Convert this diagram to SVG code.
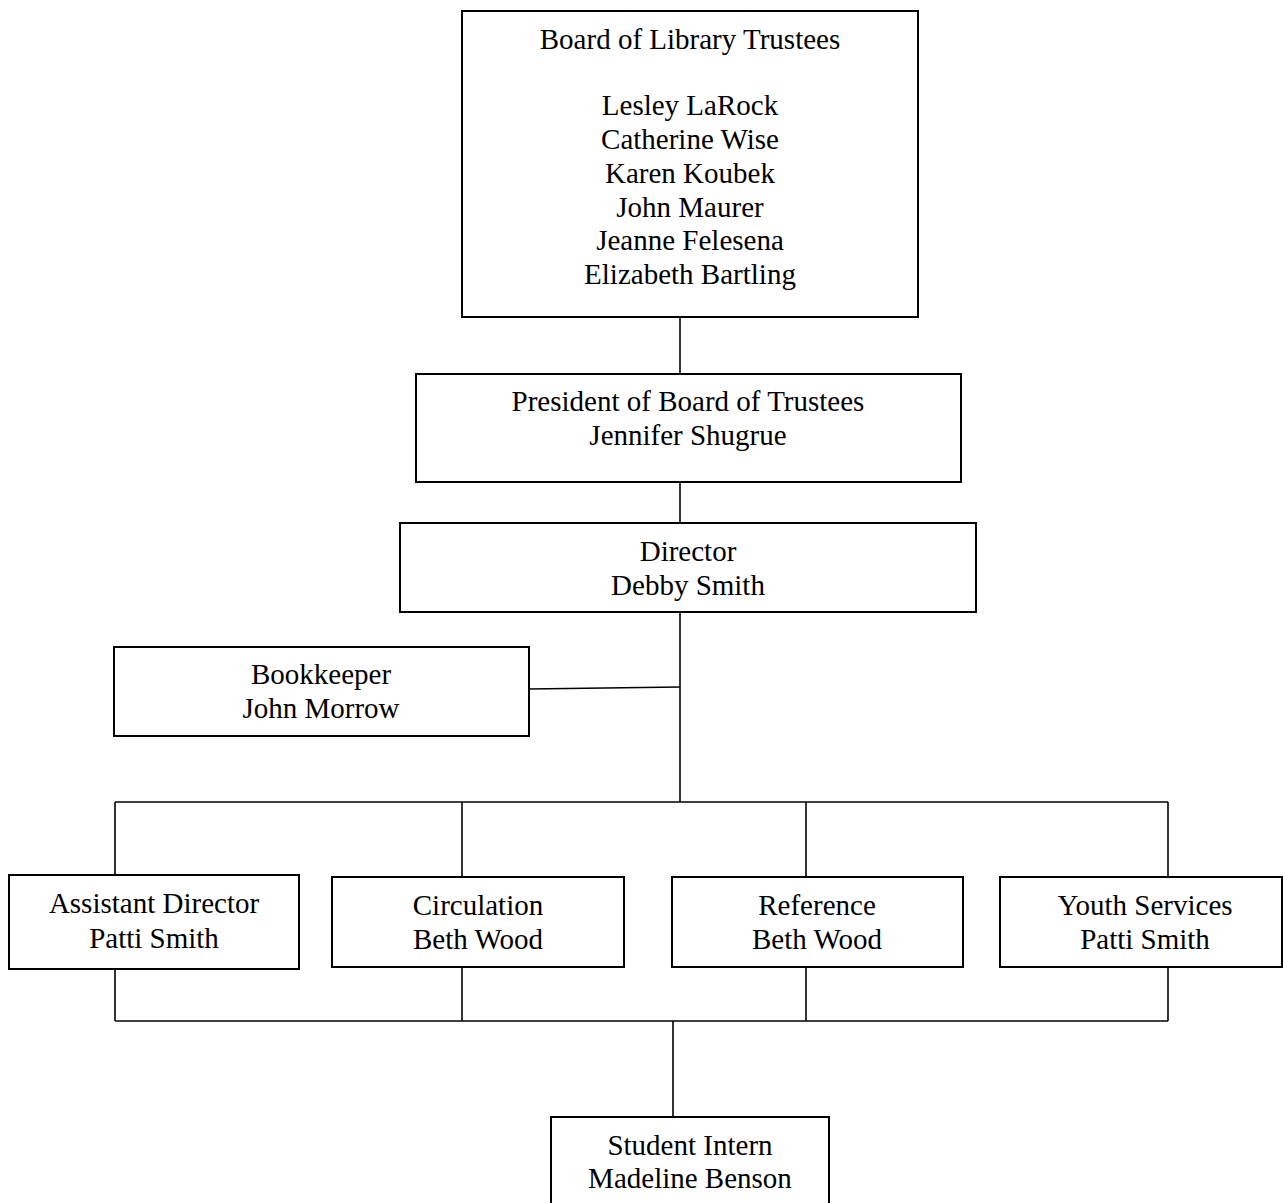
<svg xmlns="http://www.w3.org/2000/svg" width="1283" height="1203" viewBox="0 0 1283 1203">
<style>
.box{fill:#fff;stroke:#000;stroke-width:2}
.t{font-family:"Liberation Serif","Times New Roman",serif;font-size:29px;fill:#000;text-anchor:middle}
.c{stroke:#000;stroke-width:1.6;fill:none}
</style>
<rect width="1283" height="1203" fill="#fff"/>
<g id="connectors">
<line class="c" x1="680" y1="317" x2="680" y2="374"/>
<line class="c" x1="680" y1="482" x2="680" y2="523"/>
<line class="c" x1="680" y1="612" x2="680" y2="802"/>
<line class="c" x1="529" y1="689" x2="680" y2="687"/>
<line class="c" x1="115" y1="802" x2="1168" y2="802"/>
<line class="c" x1="115" y1="802" x2="115" y2="875"/>
<line class="c" x1="462" y1="802" x2="462" y2="877"/>
<line class="c" x1="806" y1="802" x2="806" y2="877"/>
<line class="c" x1="1168" y1="802" x2="1168" y2="877"/>
<line class="c" x1="115" y1="969" x2="115" y2="1021"/>
<line class="c" x1="462" y1="967" x2="462" y2="1021"/>
<line class="c" x1="806" y1="967" x2="806" y2="1021"/>
<line class="c" x1="1168" y1="967" x2="1168" y2="1021"/>
<line class="c" x1="115" y1="1021" x2="1168" y2="1021"/>
<line class="c" x1="673" y1="1021" x2="673" y2="1117"/>
</g>
<g id="board">
<rect class="box" x="462" y="11" width="456" height="306"/>
<text class="t" x="690" y="49">Board of Library Trustees</text>
<text class="t" x="690" y="115">Lesley LaRock</text>
<text class="t" x="690" y="149">Catherine Wise</text>
<text class="t" x="690" y="183">Karen Koubek</text>
<text class="t" x="690" y="217">John Maurer</text>
<text class="t" x="690" y="250">Jeanne Felesena</text>
<text class="t" x="690" y="284">Elizabeth Bartling</text>
</g>
<g id="president">
<rect class="box" x="416" y="374" width="545" height="108"/>
<text class="t" x="688" y="411">President of Board of Trustees</text>
<text class="t" x="688" y="445">Jennifer Shugrue</text>
</g>
<g id="director">
<rect class="box" x="400" y="523" width="576" height="89"/>
<text class="t" x="688" y="561">Director</text>
<text class="t" x="688" y="595">Debby Smith</text>
</g>
<g id="bookkeeper">
<rect class="box" x="114" y="647" width="415" height="89"/>
<text class="t" x="321" y="684">Bookkeeper</text>
<text class="t" x="321" y="718">John Morrow</text>
</g>
<g id="assistant-director">
<rect class="box" x="9" y="875" width="290" height="94"/>
<text class="t" x="154" y="913">Assistant Director</text>
<text class="t" x="154" y="948">Patti Smith</text>
</g>
<g id="circulation">
<rect class="box" x="332" y="877" width="292" height="90"/>
<text class="t" x="478" y="915">Circulation</text>
<text class="t" x="478" y="949">Beth Wood</text>
</g>
<g id="reference">
<rect class="box" x="672" y="877" width="291" height="90"/>
<text class="t" x="817" y="915">Reference</text>
<text class="t" x="817" y="949">Beth Wood</text>
</g>
<g id="youth-services">
<rect class="box" x="1000" y="877" width="282" height="90"/>
<text class="t" x="1145" y="915">Youth Services</text>
<text class="t" x="1145" y="949">Patti Smith</text>
</g>
<g id="student-intern">
<rect class="box" x="551" y="1117" width="278" height="90"/>
<text class="t" x="690" y="1155">Student Intern</text>
<text class="t" x="690" y="1188">Madeline Benson</text>
</g>
</svg>
